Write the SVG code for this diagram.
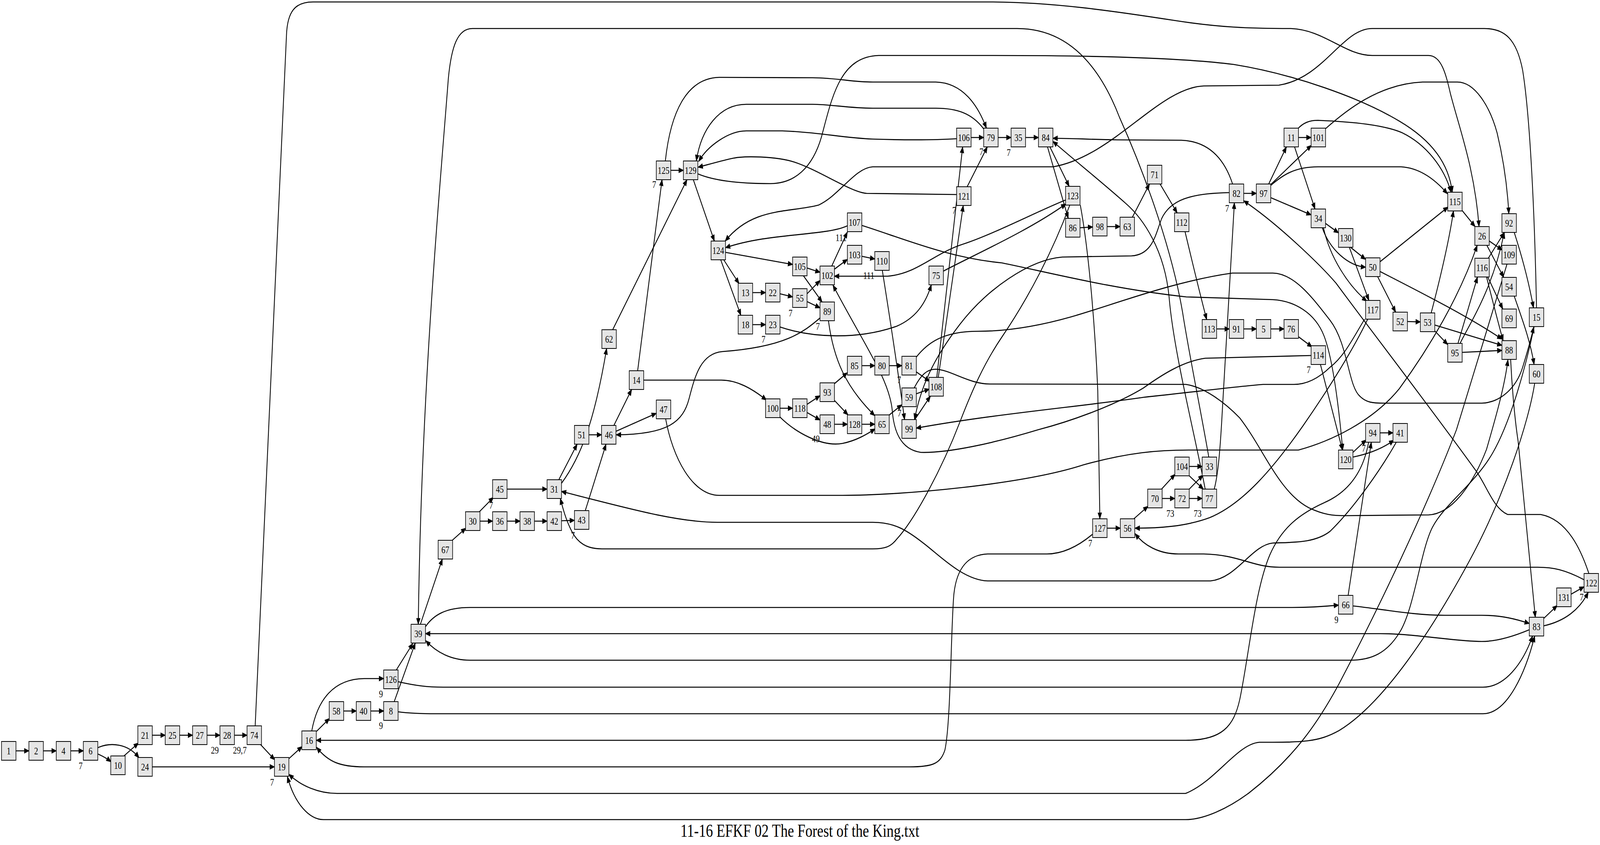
<svg xmlns="http://www.w3.org/2000/svg" width="5317" height="2163" viewBox="0 0 5317 2163" preserveAspectRatio="none">
<defs>
<marker id="a" viewBox="0 0 17 14" refX="16" refY="7" markerWidth="17" markerHeight="14" markerUnits="userSpaceOnUse" orient="auto"><path d="M1,1 L16,7 L1,13 z" fill="#000" stroke="#000" stroke-width="1.5"/></marker>
</defs>
<style>
svg{width:100vw;height:100vh;display:block}
.node rect{fill:#e5e5e5;stroke:#000;stroke-width:2}
text{font-family:"Liberation Serif","Times New Roman",serif;font-size:26px;fill:#000;text-anchor:middle}
#edges path{fill:none;stroke:#000;stroke-width:2.7;marker-end:url(#a)}
.title{font-size:47px}
</style>
<rect x="0" y="0" width="5317" height="2163" fill="#fff"/>
<g id="edges">
<path d="M53,1922 L96,1922"/>
<path d="M144,1922 L187,1922"/>
<path d="M235,1922 L277,1922"/>
<path d="M325,1930 Q350,1938 369,1950"/>
<path d="M325,1914 C365,1900 425,1902 462,1940"/>
<path d="M412,1935 L460,1902"/>
<path d="M506,1882 L549,1882"/>
<path d="M597,1882 L640,1882"/>
<path d="M688,1882 L731,1882"/>
<path d="M779,1882 L821,1882"/>
<path d="M866,1906 L913,1945"/>
<path d="M848,1858 L952,90 C955,30 980,5 1040,5 L3300,5 C3500,6 3700,28 3900,52 C4050,70 4150,73 4290,73 C4400,76 4470,142 4560,142 L4747,142 C4790,142 4805,190 4820,240 C4850,330 4900,430 4915,580"/>
<path d="M506,1963 L912,1963"/>
<path d="M960,1942 L1004,1911"/>
<path d="M1052,1872 L1095,1839"/>
<path d="M1036,1871 C1055,1790 1110,1738 1210,1737 L1275,1737"/>
<path d="M1142,1820 L1184,1820"/>
<path d="M1232,1820 L1275,1820"/>
<path d="M1310,1796 L1380,1646"/>
<path d="M1323,1822 C1360,1826 1400,1827 1450,1827 L4928,1827 C5010,1827 5070,1720 5100,1628"/>
<path d="M1317,1715 L1372,1647"/>
<path d="M1323,1745 C1380,1755 1420,1759 1473,1759 L4928,1759 C5000,1759 5060,1700 5093,1628"/>
<path d="M1397,1598 L1470,1431"/>
<path d="M1414,1604 C1440,1575 1480,1555 1562,1555 L4294,1555 C4370,1555 4420,1551 4448,1549"/>
<path d="M1503,1383 L1548,1352"/>
<path d="M1593,1310 L1640,1273"/>
<path d="M1595,1334 L1637,1334"/>
<path d="M1685,1252 L1818,1252"/>
<path d="M1685,1334 L1728,1334"/>
<path d="M1776,1334 L1818,1334"/>
<path d="M1866,1333 L1909,1332"/>
<path d="M1945,1307 L2014,1137"/>
<path d="M1857,1228 L1918,1137"/>
<path d="M1866,1237 C1930,1170 1975,1080 2016,892"/>
<path d="M1957,1113 L1999,1113"/>
<path d="M2040,1089 L2099,997"/>
<path d="M2047,1104 L2181,1058"/>
<path d="M2212,1072 C2235,1170 2300,1268 2390,1268 L2800,1268 C3000,1268 3400,1240 3600,1190 C3750,1158 3850,1152 3950,1152 L4315,1152 C4420,1130 4560,1080 4650,995 C4750,890 4850,760 4909,628"/>
<path d="M2119,949 L2200,460"/>
<path d="M2139,973 L2397,973 C2450,973 2500,995 2547,1024"/>
<path d="M2036,844 L2283,460"/>
<path d="M2229,436 L2271,436"/>
<path d="M2211,412 C2228,290 2280,200 2390,198 L2700,199 C2790,200 2830,210 2900,210 L3110,210 C3200,212 3250,270 3278,328"/>
<path d="M2304,460 L2374,617"/>
<path d="M2319,445 C2380,465 2470,470 2560,470 C2640,470 2700,430 2730,350 C2765,250 2790,145 2920,142 L3300,142 C3700,142 3950,150 4100,165 C4300,190 4520,250 4650,310 C4760,360 4815,420 4826,492"/>
<path d="M2411,646 L2634,677"/>
<path d="M2405,665 L2456,726"/>
<path d="M2395,665 L2462,807"/>
<path d="M2501,749 L2544,749"/>
<path d="M2501,831 L2544,831"/>
<path d="M2592,752 L2634,760"/>
<path d="M2592,837 C2700,865 2850,870 2980,835 C3040,815 3075,780 3095,729"/>
<path d="M2682,752 L2725,718"/>
<path d="M2682,772 L2725,788"/>
<path d="M2682,686 L2725,697"/>
<path d="M2670,706 L2732,773"/>
<path d="M2764,681 L2816,594"/>
<path d="M2773,689 L2816,664"/>
<path d="M2864,656 L2907,663"/>
<path d="M2816,578 C2740,605 2560,595 2411,634"/>
<path d="M2864,577 C3000,610 3150,660 3330,673 C3500,700 3700,740 3942,760 L4230,767 C4300,770 4370,800 4400,860 C4430,920 4450,1050 4462,1152"/>
<path d="M2932,692 Q2975,900 3006,1074"/>
<path d="M2725,814 C2670,850 2610,888 2400,900 C2330,905 2310,960 2290,1020 C2270,1080 2220,1112 2048,1113"/>
<path d="M2753,821 C2770,920 2810,990 2907,1064"/>
<path d="M2592,1045 L2634,1045"/>
<path d="M2590,1066 C2640,1105 2730,1145 2800,1135 C2845,1128 2880,1112 2908,1098"/>
<path d="M2682,1035 L2725,1013"/>
<path d="M2682,1056 L2725,1075"/>
<path d="M2773,982 L2816,954"/>
<path d="M2773,1025 L2818,1062"/>
<path d="M2773,1086 L2816,1086"/>
<path d="M2864,1086 L2907,1086"/>
<path d="M2864,936 L2907,936"/>
<path d="M2955,936 L2997,936"/>
<path d="M3045,952 L3089,976"/>
<path d="M3045,914 C3080,880 3130,848 3250,848 C3350,848 3450,835 3560,811 C3700,780 3900,720 4095,699 L4230,699 C4300,700 4360,760 4420,820 C4480,880 4480,990 4520,1015 C4540,1030 4560,1032 4600,1032 L4924,1032 C4990,1030 5040,990 5060,940 C5080,890 5090,860 5097,837"/>
<path d="M2954,1063 L2997,1036"/>
<path d="M3045,1008 L3088,996"/>
<path d="M3038,993 C3060,960 3080,945 3110,945 C3160,947 3220,983 3290,983 L3941,984 C4000,990 4070,1030 4120,1070 C4200,1150 4250,1260 4350,1300 C4400,1318 4430,1320 4470,1320 L4748,1318 C4830,1315 4900,1230 4940,1150 C4970,1070 5000,990 5011,921"/>
<path d="M3040,1074 L3092,1014"/>
<path d="M3113,966 L3199,376"/>
<path d="M3118,966 L3201,526"/>
<path d="M3227,352 L3269,352"/>
<path d="M3179,355 C3080,360 2980,358 2900,356 C2800,353 2720,338 2600,335 L2480,335 C2420,335 2350,375 2322,413"/>
<path d="M3214,478 L3281,376"/>
<path d="M3179,498 L2880,495 C2830,493 2720,435 2640,415 C2580,400 2470,398 2430,406 C2390,413 2350,422 2320,428"/>
<path d="M3317,352 L3360,352"/>
<path d="M3269,330 C3230,290 3180,277 3110,277 L2900,277 C2820,277 2760,267 2700,267 L2480,267 C2390,267 2330,330 2314,412"/>
<path d="M3408,352 L3451,352"/>
<path d="M3489,376 L3553,477"/>
<path d="M3481,376 L3550,559"/>
<path d="M3589,583 L3631,581"/>
<path d="M3679,580 L3722,580"/>
<path d="M3763,556 L3820,471"/>
<path d="M3855,471 L3912,545"/>
<path d="M3938,593 C3965,680 3990,760 4010,818"/>
<path d="M4043,842 L4085,842"/>
<path d="M4133,842 L4175,842"/>
<path d="M4223,842 L4267,842"/>
<path d="M4315,862 L4360,888"/>
<path d="M4388,933 L4461,1152"/>
<path d="M4357,910 L4005,917 C3930,925 3860,960 3800,993 C3700,1040 3550,1080 3450,1100 C3300,1135 3150,1160 3060,1158 C2990,1150 2970,1100 2965,1050 C2955,970 2870,880 2768,730"/>
<path d="M3135,694 C3230,655 3420,590 3542,522"/>
<path d="M3541,512 C3450,540 3300,600 3200,625 C3100,650 3050,700 2950,707 L2773,707"/>
<path d="M3555,525 C3500,640 3420,760 3330,862 C3270,930 3230,1000 3190,1080 C3130,1200 3040,1330 2980,1380 C2960,1400 2940,1405 2900,1405 L2000,1405 C1950,1405 1920,1390 1900,1360 C1880,1330 1870,1300 1862,1276"/>
<path d="M3590,525 C3620,650 3640,850 3648,1000 L3655,1328"/>
<path d="M3679,1352 L3723,1352"/>
<path d="M3630,1368 C3580,1400 3530,1418 3479,1418 L3282,1418 C3220,1420 3180,1450 3170,1520 C3160,1600 3160,1850 3140,1920 C3125,1955 3100,1963 3022,1963 L1210,1963 C1130,1963 1090,1950 1052,1913"/>
<path d="M3768,1328 L3815,1296"/>
<path d="M3860,1252 L3905,1214"/>
<path d="M3862,1276 L3904,1276"/>
<path d="M3952,1194 L3995,1194"/>
<path d="M3952,1218 L3999,1252"/>
<path d="M3952,1252 L3998,1216"/>
<path d="M3952,1276 L3995,1276"/>
<path d="M4017,1170 C3990,1050 3950,900 3930,800 C3890,620 3790,420 3720,300 C3660,180 3560,73 3380,73 L1570,73 C1520,73 1500,120 1490,200 C1460,500 1400,1000 1390,1598"/>
<path d="M4005,1252 C3970,1110 3900,900 3885,760 C3870,640 3800,560 3740,520 C3660,465 3570,410 3499,362"/>
<path d="M4035,1252 C4048,1215 4055,1150 4062,1050 L4102,519"/>
<path d="M4133,495 L4175,495"/>
<path d="M4096,471 C4070,410 4020,362 3926,359 L3712,358 C3620,357 3560,354 3499,354"/>
<path d="M4085,493 C3960,495 3890,510 3860,560 C3840,600 3830,652 3760,655 L3530,658 C3420,665 3280,740 3190,830 C3100,920 3060,990 3039,1074"/>
<path d="M4216,471 L4275,376"/>
<path d="M4222,473 L4358,372"/>
<path d="M4222,475 C4260,450 4300,427 4380,427 L4656,427 C4720,430 4770,460 4810,496"/>
<path d="M4223,506 L4357,550"/>
<path d="M4315,352 L4357,352"/>
<path d="M4302,376 L4370,535"/>
<path d="M4312,330 C4330,315 4350,308 4380,308 C4500,312 4600,320 4660,340 C4740,370 4800,430 4822,492"/>
<path d="M4404,330 C4470,285 4580,215 4727,210 L4843,210 C4900,210 4950,270 4975,340 C5000,420 5010,490 5014,547"/>
<path d="M4405,572 L4448,596"/>
<path d="M4394,583 C4420,640 4480,680 4538,684"/>
<path d="M4398,583 C4420,660 4480,730 4542,771"/>
<path d="M4488,633 L4538,664"/>
<path d="M4484,633 L4549,769"/>
<path d="M4586,670 L4812,530"/>
<path d="M4578,708 L4638,799"/>
<path d="M4586,695 C4700,740 4880,810 4991,868"/>
<path d="M4677,823 L4720,824"/>
<path d="M4756,801 C4780,730 4815,620 4830,540"/>
<path d="M4768,847 L4811,882"/>
<path d="M4768,832 L4991,884"/>
<path d="M4859,902 L4991,897"/>
<path d="M4845,879 L4910,709"/>
<path d="M4852,879 C4890,820 4960,740 4999,595"/>
<path d="M4945,662 L4999,595"/>
<path d="M4944,709 L4994,791"/>
<path d="M4940,709 C4960,770 4980,830 4995,872"/>
<path d="M4858,538 L4902,580"/>
<path d="M4949,617 L4992,640"/>
<path d="M4941,628 L4997,710"/>
<path d="M5008,676 C4970,770 4900,950 4840,1100 C4740,1300 4580,1560 4450,1750 C4380,1850 4300,1940 4150,2030 C4080,2070 4000,2098 3940,2098 L1075,2098 C1030,2098 980,2060 955,1988"/>
<path d="M5032,758 C5055,810 5085,870 5098,933"/>
<path d="M5100,981 C5080,1080 5000,1270 4880,1440 C4760,1610 4600,1800 4450,1870 C4380,1900 4330,1900 4185,1900 C4110,1905 4040,2000 3940,2031 L1120,2031 C1060,2031 1000,2012 960,1982"/>
<path d="M5032,595 C5055,650 5080,720 5096,788"/>
<path d="M5106,788 C5100,550 5085,300 5060,180 C5040,100 5000,73 4933,73 L4560,73 C4460,73 4400,200 4250,218 L4000,220 C3850,225 3700,400 3500,427 L2900,427 C2840,430 2790,500 2720,525 C2620,545 2500,530 2410,617"/>
<path d="M5098,837 C5070,940 5020,1080 4960,1160 C4900,1240 4800,1290 4760,1350 C4720,1410 4700,1560 4650,1620 C4610,1670 4560,1690 4487,1690 L1562,1690 C1500,1690 1450,1670 1415,1640"/>
<path d="M4545,817 C4500,890 4420,990 4330,1090 C4230,1200 4130,1290 4020,1325 C3940,1348 3850,1352 3772,1352"/>
<path d="M4535,817 C4500,860 4470,910 4420,940 C4380,970 4340,984 4300,984 L4197,984 C4100,990 3950,1005 3800,1017 C3600,1040 3300,1060 3045,1096"/>
<path d="M4496,1158 L4540,1126"/>
<path d="M4496,1170 C4560,1160 4600,1145 4632,1127"/>
<path d="M4586,1108 L4629,1108"/>
<path d="M4548,1132 C4530,1210 4480,1260 4400,1287 C4320,1315 4260,1350 4220,1420 C4170,1510 4150,1680 4120,1790 C4100,1860 4060,1895 3940,1895 L1051,1895"/>
<path d="M4640,1132 C4590,1200 4500,1300 4420,1360 C4370,1390 4300,1388 4230,1390 C4160,1395 4110,1480 4023,1487 L3282,1487 C3200,1485 3120,1420 3068,1390 C3010,1355 2970,1337 2900,1337 L2384,1337 C2250,1337 2080,1300 1866,1258"/>
<path d="M4480,1524 L4557,1132"/>
<path d="M4496,1551 C4600,1560 4700,1575 4800,1575 L4924,1575 C4990,1575 5040,1585 5082,1596"/>
<path d="M5020,920 C5025,1000 5035,1080 5045,1130 L5102,1580"/>
<path d="M5082,1612 C5020,1632 4970,1642 4924,1642 C4840,1642 4700,1622 4588,1622 L1414,1622"/>
<path d="M5130,1583 L5175,1550"/>
<path d="M5130,1602 C5200,1590 5250,1560 5278,1516"/>
<path d="M5221,1521 L5264,1502"/>
<path d="M5264,1484 C5200,1458 5160,1452 5110,1452 L4252,1452 C4160,1452 4120,1420 4000,1418 L3916,1418 C3850,1418 3800,1395 3772,1366"/>
<path d="M5280,1468 C5255,1410 5210,1330 5120,1317 L5010,1317 C4960,1300 4940,1240 4900,1200 C4750,1040 4550,840 4440,725 C4390,680 4250,575 4133,514"/>
</g>
<g id="nodes">
<g id="n1" class="node"><rect x="5" y="1898" width="48" height="48"/><text x="29" y="1931">1</text></g>
<g id="n2" class="node"><rect x="96" y="1898" width="48" height="48"/><text x="120" y="1931">2</text></g>
<g id="n4" class="node"><rect x="187" y="1898" width="48" height="48"/><text x="211" y="1931">4</text></g>
<g id="n6" class="node"><rect x="277" y="1898" width="48" height="48"/><text x="301" y="1931">6</text></g>
<g id="n10" class="node"><rect x="368" y="1935" width="48" height="48"/><text x="392" y="1968">10</text></g>
<g id="n21" class="node"><rect x="458" y="1858" width="48" height="48"/><text x="482" y="1891">21</text></g>
<g id="n24" class="node"><rect x="458" y="1939" width="48" height="48"/><text x="482" y="1972">24</text></g>
<g id="n25" class="node"><rect x="549" y="1858" width="48" height="48"/><text x="573" y="1891">25</text></g>
<g id="n27" class="node"><rect x="640" y="1858" width="48" height="48"/><text x="664" y="1891">27</text></g>
<g id="n28" class="node"><rect x="731" y="1858" width="48" height="48"/><text x="755" y="1891">28</text></g>
<g id="n74" class="node"><rect x="821" y="1858" width="48" height="48"/><text x="845" y="1891">74</text></g>
<g id="n19" class="node"><rect x="912" y="1939" width="48" height="48"/><text x="936" y="1972">19</text></g>
<g id="n16" class="node"><rect x="1003" y="1871" width="48" height="48"/><text x="1027" y="1904">16</text></g>
<g id="n58" class="node"><rect x="1094" y="1796" width="48" height="48"/><text x="1118" y="1829">58</text></g>
<g id="n40" class="node"><rect x="1184" y="1796" width="48" height="48"/><text x="1208" y="1829">40</text></g>
<g id="n8" class="node"><rect x="1275" y="1796" width="48" height="48"/><text x="1299" y="1829">8</text></g>
<g id="n126" class="node"><rect x="1275" y="1715" width="48" height="48"/><text x="1299" y="1748">126</text></g>
<g id="n39" class="node"><rect x="1366" y="1598" width="48" height="48"/><text x="1390" y="1631">39</text></g>
<g id="n67" class="node"><rect x="1456" y="1383" width="48" height="48"/><text x="1480" y="1416">67</text></g>
<g id="n30" class="node"><rect x="1547" y="1310" width="48" height="48"/><text x="1571" y="1343">30</text></g>
<g id="n45" class="node"><rect x="1637" y="1228" width="48" height="48"/><text x="1661" y="1261">45</text></g>
<g id="n36" class="node"><rect x="1637" y="1310" width="48" height="48"/><text x="1661" y="1343">36</text></g>
<g id="n38" class="node"><rect x="1728" y="1310" width="48" height="48"/><text x="1752" y="1343">38</text></g>
<g id="n42" class="node"><rect x="1818" y="1310" width="48" height="48"/><text x="1842" y="1343">42</text></g>
<g id="n43" class="node"><rect x="1909" y="1307" width="48" height="48"/><text x="1933" y="1340">43</text></g>
<g id="n31" class="node"><rect x="1818" y="1228" width="48" height="48"/><text x="1842" y="1261">31</text></g>
<g id="n51" class="node"><rect x="1909" y="1089" width="48" height="48"/><text x="1933" y="1122">51</text></g>
<g id="n46" class="node"><rect x="1999" y="1089" width="48" height="48"/><text x="2023" y="1122">46</text></g>
<g id="n47" class="node"><rect x="2181" y="1024" width="48" height="48"/><text x="2205" y="1057">47</text></g>
<g id="n14" class="node"><rect x="2091" y="949" width="48" height="48"/><text x="2115" y="982">14</text></g>
<g id="n62" class="node"><rect x="2000" y="844" width="48" height="48"/><text x="2024" y="877">62</text></g>
<g id="n125" class="node"><rect x="2181" y="412" width="48" height="48"/><text x="2205" y="445">125</text></g>
<g id="n129" class="node"><rect x="2271" y="412" width="48" height="48"/><text x="2295" y="445">129</text></g>
<g id="n124" class="node"><rect x="2363" y="617" width="48" height="48"/><text x="2387" y="650">124</text></g>
<g id="n105" class="node"><rect x="2634" y="658" width="48" height="48"/><text x="2658" y="691">105</text></g>
<g id="n13" class="node"><rect x="2453" y="725" width="48" height="48"/><text x="2477" y="758">13</text></g>
<g id="n22" class="node"><rect x="2544" y="725" width="48" height="48"/><text x="2568" y="758">22</text></g>
<g id="n55" class="node"><rect x="2634" y="739" width="48" height="48"/><text x="2658" y="772">55</text></g>
<g id="n89" class="node"><rect x="2725" y="773" width="48" height="48"/><text x="2749" y="806">89</text></g>
<g id="n18" class="node"><rect x="2453" y="807" width="48" height="48"/><text x="2477" y="840">18</text></g>
<g id="n23" class="node"><rect x="2544" y="807" width="48" height="48"/><text x="2568" y="840">23</text></g>
<g id="n102" class="node"><rect x="2725" y="681" width="48" height="48"/><text x="2749" y="714">102</text></g>
<g id="n107" class="node"><rect x="2816" y="545" width="48" height="48"/><text x="2840" y="578">107</text></g>
<g id="n103" class="node"><rect x="2816" y="628" width="48" height="48"/><text x="2840" y="661">103</text></g>
<g id="n110" class="node"><rect x="2907" y="644" width="48" height="48"/><text x="2931" y="677">110</text></g>
<g id="n75" class="node"><rect x="3087" y="681" width="48" height="48"/><text x="3111" y="714">75</text></g>
<g id="n100" class="node"><rect x="2544" y="1021" width="48" height="48"/><text x="2568" y="1054">100</text></g>
<g id="n118" class="node"><rect x="2634" y="1021" width="48" height="48"/><text x="2658" y="1054">118</text></g>
<g id="n93" class="node"><rect x="2725" y="980" width="48" height="48"/><text x="2749" y="1013">93</text></g>
<g id="n48" class="node"><rect x="2725" y="1062" width="48" height="48"/><text x="2749" y="1095">48</text></g>
<g id="n85" class="node"><rect x="2816" y="912" width="48" height="48"/><text x="2840" y="945">85</text></g>
<g id="n128" class="node"><rect x="2816" y="1062" width="48" height="48"/><text x="2840" y="1095">128</text></g>
<g id="n80" class="node"><rect x="2907" y="912" width="48" height="48"/><text x="2931" y="945">80</text></g>
<g id="n65" class="node"><rect x="2907" y="1062" width="48" height="48"/><text x="2931" y="1095">65</text></g>
<g id="n81" class="node"><rect x="2997" y="912" width="48" height="48"/><text x="3021" y="945">81</text></g>
<g id="n59" class="node"><rect x="2997" y="993" width="48" height="48"/><text x="3021" y="1026">59</text></g>
<g id="n99" class="node"><rect x="2997" y="1074" width="48" height="48"/><text x="3021" y="1107">99</text></g>
<g id="n108" class="node"><rect x="3087" y="966" width="48" height="48"/><text x="3111" y="999">108</text></g>
<g id="n106" class="node"><rect x="3179" y="328" width="48" height="48"/><text x="3203" y="361">106</text></g>
<g id="n79" class="node"><rect x="3269" y="328" width="48" height="48"/><text x="3293" y="361">79</text></g>
<g id="n35" class="node"><rect x="3360" y="328" width="48" height="48"/><text x="3384" y="361">35</text></g>
<g id="n84" class="node"><rect x="3451" y="328" width="48" height="48"/><text x="3475" y="361">84</text></g>
<g id="n121" class="node"><rect x="3179" y="478" width="48" height="48"/><text x="3203" y="511">121</text></g>
<g id="n123" class="node"><rect x="3541" y="477" width="48" height="48"/><text x="3565" y="510">123</text></g>
<g id="n86" class="node"><rect x="3541" y="559" width="48" height="48"/><text x="3565" y="592">86</text></g>
<g id="n98" class="node"><rect x="3631" y="556" width="48" height="48"/><text x="3655" y="589">98</text></g>
<g id="n63" class="node"><rect x="3722" y="556" width="48" height="48"/><text x="3746" y="589">63</text></g>
<g id="n71" class="node"><rect x="3813" y="423" width="48" height="48"/><text x="3837" y="456">71</text></g>
<g id="n112" class="node"><rect x="3903" y="545" width="48" height="48"/><text x="3927" y="578">112</text></g>
<g id="n113" class="node"><rect x="3995" y="818" width="48" height="48"/><text x="4019" y="851">113</text></g>
<g id="n91" class="node"><rect x="4085" y="818" width="48" height="48"/><text x="4109" y="851">91</text></g>
<g id="n5" class="node"><rect x="4175" y="818" width="48" height="48"/><text x="4199" y="851">5</text></g>
<g id="n76" class="node"><rect x="4267" y="818" width="48" height="48"/><text x="4291" y="851">76</text></g>
<g id="n82" class="node"><rect x="4085" y="471" width="48" height="48"/><text x="4109" y="504">82</text></g>
<g id="n97" class="node"><rect x="4175" y="471" width="48" height="48"/><text x="4199" y="504">97</text></g>
<g id="n11" class="node"><rect x="4267" y="328" width="48" height="48"/><text x="4291" y="361">11</text></g>
<g id="n101" class="node"><rect x="4357" y="328" width="48" height="48"/><text x="4381" y="361">101</text></g>
<g id="n34" class="node"><rect x="4357" y="535" width="48" height="48"/><text x="4381" y="568">34</text></g>
<g id="n130" class="node"><rect x="4448" y="585" width="48" height="48"/><text x="4472" y="618">130</text></g>
<g id="n50" class="node"><rect x="4538" y="660" width="48" height="48"/><text x="4562" y="693">50</text></g>
<g id="n117" class="node"><rect x="4538" y="769" width="48" height="48"/><text x="4562" y="802">117</text></g>
<g id="n52" class="node"><rect x="4629" y="799" width="48" height="48"/><text x="4653" y="832">52</text></g>
<g id="n53" class="node"><rect x="4720" y="801" width="48" height="48"/><text x="4744" y="834">53</text></g>
<g id="n114" class="node"><rect x="4357" y="885" width="48" height="48"/><text x="4381" y="918">114</text></g>
<g id="n115" class="node"><rect x="4811" y="492" width="48" height="48"/><text x="4835" y="525">115</text></g>
<g id="n95" class="node"><rect x="4811" y="879" width="48" height="48"/><text x="4835" y="912">95</text></g>
<g id="n26" class="node"><rect x="4901" y="580" width="48" height="48"/><text x="4925" y="613">26</text></g>
<g id="n116" class="node"><rect x="4901" y="661" width="48" height="48"/><text x="4925" y="694">116</text></g>
<g id="n92" class="node"><rect x="4991" y="547" width="48" height="48"/><text x="5015" y="580">92</text></g>
<g id="n109" class="node"><rect x="4991" y="628" width="48" height="48"/><text x="5015" y="661">109</text></g>
<g id="n54" class="node"><rect x="4991" y="710" width="48" height="48"/><text x="5015" y="743">54</text></g>
<g id="n69" class="node"><rect x="4991" y="791" width="48" height="48"/><text x="5015" y="824">69</text></g>
<g id="n88" class="node"><rect x="4991" y="872" width="48" height="48"/><text x="5015" y="905">88</text></g>
<g id="n15" class="node"><rect x="5082" y="788" width="48" height="48"/><text x="5106" y="821">15</text></g>
<g id="n60" class="node"><rect x="5082" y="933" width="48" height="48"/><text x="5106" y="966">60</text></g>
<g id="n120" class="node"><rect x="4448" y="1152" width="48" height="48"/><text x="4472" y="1185">120</text></g>
<g id="n94" class="node"><rect x="4538" y="1084" width="48" height="48"/><text x="4562" y="1117">94</text></g>
<g id="n41" class="node"><rect x="4629" y="1084" width="48" height="48"/><text x="4653" y="1117">41</text></g>
<g id="n104" class="node"><rect x="3904" y="1170" width="48" height="48"/><text x="3928" y="1203">104</text></g>
<g id="n33" class="node"><rect x="3995" y="1170" width="48" height="48"/><text x="4019" y="1203">33</text></g>
<g id="n70" class="node"><rect x="3814" y="1252" width="48" height="48"/><text x="3838" y="1285">70</text></g>
<g id="n72" class="node"><rect x="3904" y="1252" width="48" height="48"/><text x="3928" y="1285">72</text></g>
<g id="n77" class="node"><rect x="3995" y="1252" width="48" height="48"/><text x="4019" y="1285">77</text></g>
<g id="n127" class="node"><rect x="3631" y="1328" width="48" height="48"/><text x="3655" y="1361">127</text></g>
<g id="n56" class="node"><rect x="3723" y="1328" width="48" height="48"/><text x="3747" y="1361">56</text></g>
<g id="n66" class="node"><rect x="4448" y="1524" width="48" height="48"/><text x="4472" y="1557">66</text></g>
<g id="n83" class="node"><rect x="5082" y="1580" width="48" height="48"/><text x="5106" y="1613">83</text></g>
<g id="n131" class="node"><rect x="5173" y="1505" width="48" height="48"/><text x="5197" y="1538">131</text></g>
<g id="n122" class="node"><rect x="5264" y="1468" width="48" height="48"/><text x="5288" y="1501">122</text></g>
</g>
<g id="labels">
<text x="268" y="1969">7</text>
<text x="714" y="1929">29</text>
<text x="797" y="1929">29,7</text>
<text x="904" y="2011">7</text>
<text x="1266" y="1785">9</text>
<text x="1266" y="1866">9</text>
<text x="1632" y="1302">7</text>
<text x="1904" y="1379">7</text>
<text x="2174" y="481">7</text>
<text x="2627" y="810">7</text>
<text x="2718" y="844">7</text>
<text x="2537" y="877">7</text>
<text x="2795" y="617">111</text>
<text x="2887" y="714">111</text>
<text x="2711" y="1132">49</text>
<text x="2988" y="981">7</text>
<text x="2989" y="1066">7</text>
<text x="3261" y="397">7</text>
<text x="3352" y="399">7</text>
<text x="3171" y="547">7</text>
<text x="4078" y="542">7</text>
<text x="4349" y="955">7</text>
<text x="4532" y="1156">7</text>
<text x="3889" y="1323">73</text>
<text x="3980" y="1323">73</text>
<text x="3623" y="1399">7</text>
<text x="4441" y="1595">9</text>
<text x="5256" y="1537">7</text>
</g>
<text class="title" x="2658" y="2142">11-16 EFKF 02 The Forest of the King.txt</text>
</svg>
